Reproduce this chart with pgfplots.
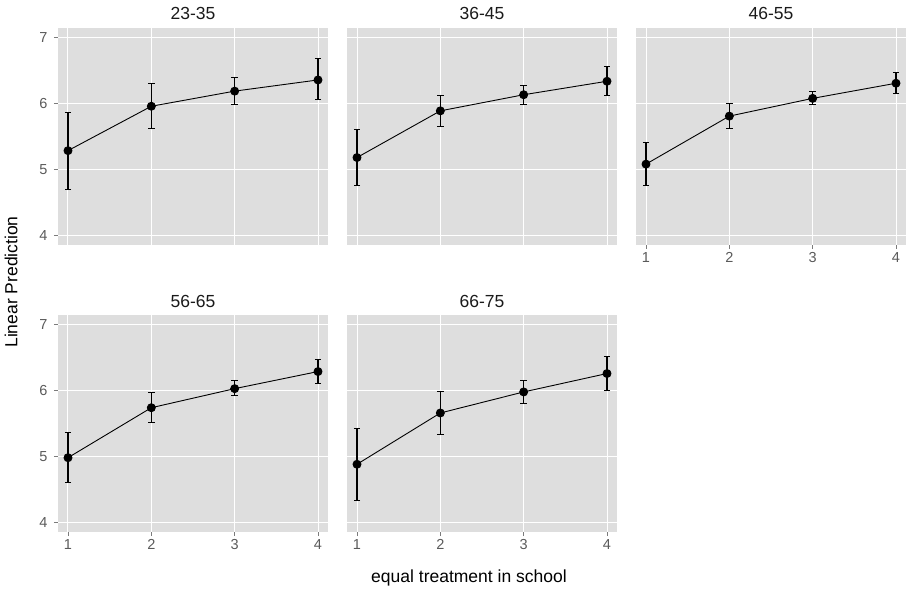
\documentclass[border=0pt]{standalone}
\usepackage{pgfplots}
\pgfplotsset{compat=1.18}
\usepackage{pgfplotstable}
\usepackage{fontspec}
\setmainfont{Liberation Sans}
\definecolor{ggbg}{RGB}{222,222,222}
\definecolor{ggtick}{RGB}{90,90,90}
\definecolor{ggtitle}{RGB}{26,26,26}

\pgfplotstableread{
x y ep em
1 5.285 0.585 0.590
2 5.960 0.350 0.340
3 6.190 0.210 0.210
4 6.360 0.320 0.300
}\dataA
\pgfplotstableread{
x y ep em
1 5.180 0.430 0.420
2 5.890 0.240 0.240
3 6.135 0.135 0.145
4 6.340 0.220 0.220
}\dataB
\pgfplotstableread{
x y ep em
1 5.080 0.330 0.330
2 5.810 0.190 0.190
3 6.080 0.110 0.100
4 6.310 0.170 0.160
}\dataC
\pgfplotstableread{
x y ep em
1 4.980 0.390 0.370
2 5.740 0.230 0.230
3 6.030 0.130 0.110
4 6.290 0.180 0.180
}\dataD
\pgfplotstableread{
x y ep em
1 4.880 0.540 0.550
2 5.660 0.330 0.320
3 5.980 0.180 0.170
4 6.260 0.260 0.260
}\dataE

\pgfplotsset{
  gg/.style={
    scale only axis, width=270pt, height=217pt,
    anchor=north west,
    xmin=0.88, xmax=4.12, ymin=3.85, ymax=7.15,
    axis background/.style={fill=ggbg},
    axis lines*=left,
    axis line style={draw=none},
    grid=major, major grid style={white, line width=1pt},
    xtick={1,2,3,4}, ytick={4,5,6,7},
    tick align=outside, major tick length=4pt,
    tick style={ggtick!80, line width=0.8pt},
    tick label style={font=\fontsize{14.5}{16}\selectfont, text=ggtick},
    yticklabel style={xshift=-3pt},
    /pgf/number format/assume math mode=true,
    title style={at={(0.5,1)}, anchor=base, yshift=2pt, inner sep=0pt,
                 font=\fontsize{17.5}{20}\selectfont, text=ggtitle},
  },
  nox/.style={xticklabels={}, xtick style={draw=none}},
  noy/.style={yticklabels={}, ytick style={draw=none}},
  ser/.style={black, line width=0.9pt, mark=*, mark size=4pt,
    error bars/.cd, y dir=both, y explicit,
    error bar style={line width=1.2pt, black},
    error mark options={rotate=90, mark size=3.2pt, line width=0.9pt, black}},
}

\begin{document}
\begin{tikzpicture}
\useasboundingbox (0,0) rectangle (907pt,-591pt);

\begin{axis}[gg, nox, at={(58pt,-28pt)}, title={23-35}]
\addplot[ser] table[x=x, y=y, y error plus=ep, y error minus=em] {\dataA};
\end{axis}

\begin{axis}[gg, nox, noy, at={(347pt,-28pt)}, title={36-45}]
\addplot[ser] table[x=x, y=y, y error plus=ep, y error minus=em] {\dataB};
\end{axis}

\begin{axis}[gg, noy, at={(636pt,-28pt)}, title={46-55}]
\addplot[ser] table[x=x, y=y, y error plus=ep, y error minus=em] {\dataC};
\end{axis}

\begin{axis}[gg, at={(58pt,-315pt)}, title={56-65}]
\addplot[ser] table[x=x, y=y, y error plus=ep, y error minus=em] {\dataD};
\end{axis}

\begin{axis}[gg, noy, at={(347pt,-315pt)}, title={66-75}]
\addplot[ser] table[x=x, y=y, y error plus=ep, y error minus=em] {\dataE};
\end{axis}

\node[rotate=90, font=\fontsize{17.5}{20}\selectfont] at (11pt,-282pt) {Linear Prediction};
\node[font=\fontsize{17.5}{20}\selectfont] at (469pt,-578pt) {equal treatment in school};
\end{tikzpicture}
\end{document}
